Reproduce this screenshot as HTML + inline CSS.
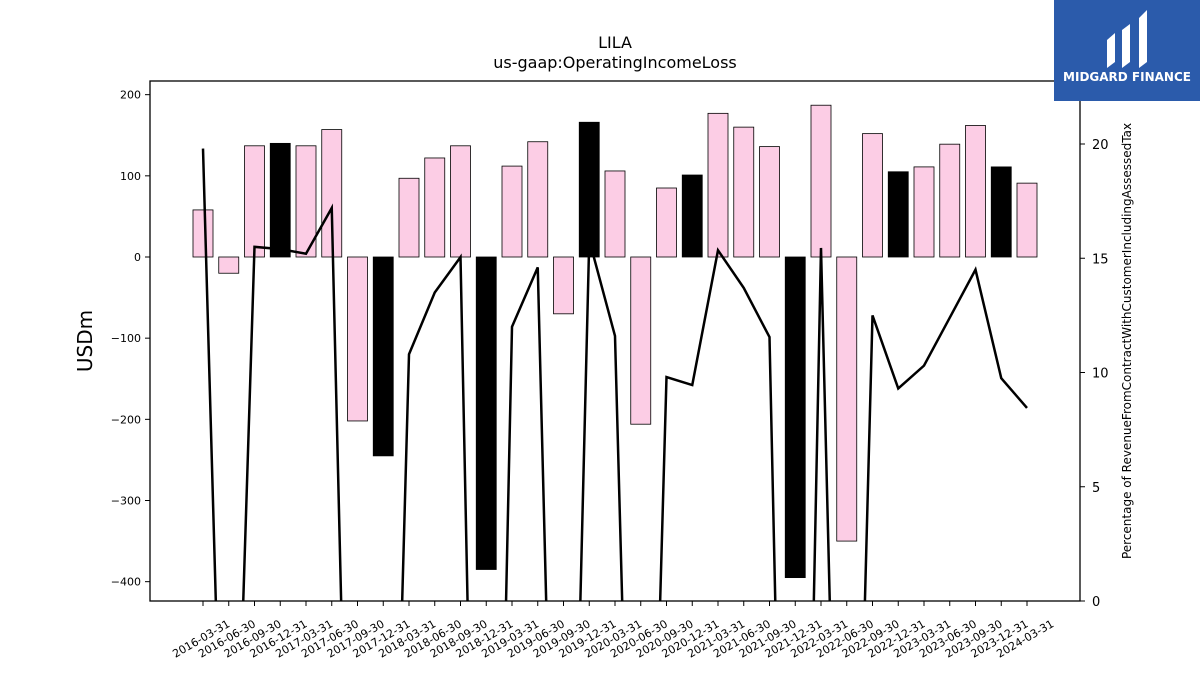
<!DOCTYPE html>
<html><head><meta charset="utf-8"><style>
html,body{margin:0;padding:0;background:#fff;width:1200px;height:675px;overflow:hidden;font-family:"Liberation Sans","DejaVu Sans",sans-serif}
svg{display:block}
</style></head><body>
<svg id="chart" width="1200" height="675" xmlns="http://www.w3.org/2000/svg" font-family="DejaVu Sans, Liberation Sans, sans-serif">
<rect width="1200" height="675" fill="#fff"/>
<text x="615" y="48" text-anchor="middle" font-size="16">LILA</text>
<text x="615" y="68" text-anchor="middle" font-size="16">us-gaap:OperatingIncomeLoss</text>
<g id="bars"></g>
<g id="line"></g>
<rect x="150" y="81" width="930" height="520" fill="none" stroke="#000" stroke-width="1.3"/>
<g id="axes"></g>
<text transform="translate(92,341) rotate(-90)" text-anchor="middle" font-size="20">USDm</text>
<text transform="translate(1131,341) rotate(-90)" text-anchor="middle" font-size="12">Percentage of RevenueFromContractWithCustomerIncludingAssessedTax</text>
<g>
<rect x="1054" y="0" width="146" height="101" fill="#2b5bab"/>
<path d="M1107 68 L1107 40 L1115 33 L1115 62 Z M1122 68 L1122 30 L1130 24 L1130 62 Z M1139 68 L1139 18 L1147 10 L1147 62 Z" fill="#fff"/>
<text x="1127" y="81" text-anchor="middle" font-size="12" font-weight="bold" fill="#fff">MIDGARD FINANCE</text>
</g>
</svg>
<script>
const categories=["2016-03-31","2016-06-30","2016-09-30","2016-12-31","2017-03-31","2017-06-30","2017-09-30","2017-12-31","2018-03-31","2018-06-30","2018-09-30","2018-12-31","2019-03-31","2019-06-30","2019-09-30","2019-12-31","2020-03-31","2020-06-30","2020-09-30","2020-12-31","2021-03-31","2021-06-30","2021-09-30","2021-12-31","2022-03-31","2022-06-30","2022-09-30","2022-12-31","2023-03-31","2023-06-30","2023-09-30","2023-12-31","2024-03-31"];
const operatingIncome=[58,-20,137,140,137,157,-202,-245,97,122,137,-385,112,142,-70,166,106,-206,85,101,177,160,136,-395,187,-350,152,105,111,139,162,111,91];
const isYearEnd=[0,0,0,1,0,0,0,1,0,0,0,1,0,0,0,1,0,0,0,1,0,0,0,1,0,0,0,1,0,0,0,1,0];
const percentOfRevenue=[19.8,-20,15.5,15.4,15.2,17.2,-30,-30,10.8,13.5,15.05,-40,12.0,14.6,-30,15.8,11.6,-30,9.8,9.45,15.35,13.7,11.55,-40,15.45,-30,12.5,9.3,10.3,12.4,14.5,9.75,8.45];
const leftTicks=[200,100,0,-100,-200,-300,-400];
const rightTicks=[0,5,10,15,20];
const NS="http://www.w3.org/2000/svg";
const x=i=>203+i*(1027-203)/(categories.length-1);
const yL=v=>257-v*(582-95)/600;
const yR=v=>601-v*(601-144)/20;
function mk(t,a,p){const e=document.createElementNS(NS,t);for(const k in a)e.setAttribute(k,a[k]);p.appendChild(e);return e;}
const bars=document.getElementById('bars'),axes=document.getElementById('axes'),line=document.getElementById('line');
operatingIncome.forEach((v,i)=>{
 const y0=yL(0),y1=yL(v);
 const r=mk('rect',{x:x(i)-10,y:Math.min(y0,y1),width:20,height:Math.abs(y1-y0),fill:isYearEnd[i]?'#000':'#fccde5',stroke:'#000','stroke-width':0.8},bars);
 
 
});
const defs=mk('defs',{},line);
const cp=mk('clipPath',{id:'clip'},defs);
mk('rect',{x:150,y:81,width:930,height:520},cp);
const pth=mk('path',{d:percentOfRevenue.map((v,i)=>(i?'L':'M')+x(i)+' '+yR(v)).join(' '),fill:'none',stroke:'#000','stroke-width':2.5,'clip-path':'url(#clip)'},line);


leftTicks.forEach(t=>{
 const y=yL(t);
 mk('line',{x1:145,x2:150,y1:y,y2:y,stroke:'#000'},axes);
 const tx=mk('text',{x:141,y:y+4,'text-anchor':'end','font-size':11},axes);
 tx.textContent=t<0?'\u2212'+(-t):t;
 
 
});
rightTicks.forEach(t=>{
 const y=yR(t);
 mk('line',{x1:1080,x2:1085,y1:y,y2:y,stroke:'#000'},axes);
 const tx=mk('text',{x:1092,y:y+5,'font-size':13},axes);
 tx.textContent=t;
 
 
});
categories.forEach((c,i)=>{
 const xx=x(i);
 mk('line',{x1:xx,x2:xx,y1:601,y2:606,stroke:'#000'},axes);
 const tx=mk('text',{transform:`translate(${xx},${642}) rotate(-30)`,'text-anchor':'middle','font-size':11},axes);
 tx.textContent=c;
 
 
});
</script>
</body></html>
